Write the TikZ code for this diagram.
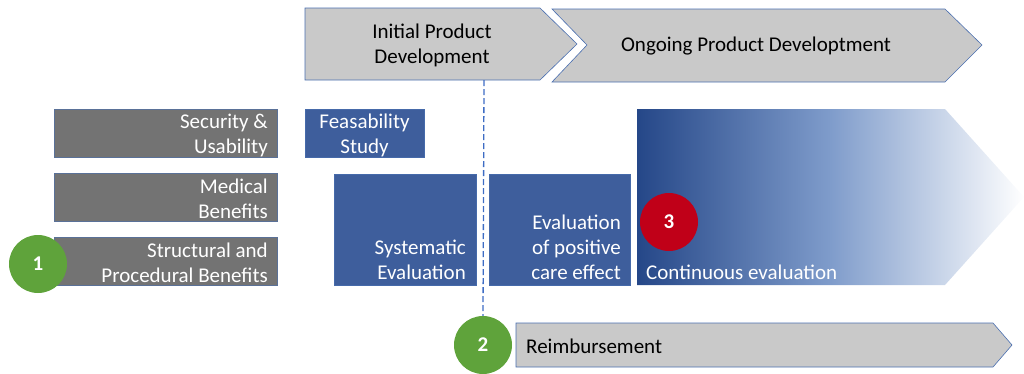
\documentclass[tikz,border=0pt]{standalone}
\usepackage{fontspec}
\setmainfont{Carlito}
\definecolor{chevgray}{HTML}{C9C9C9}
\definecolor{chevline}{HTML}{4A6FB0}
\definecolor{dashblue}{HTML}{3D6CC4}
\definecolor{boxgray}{HTML}{737373}
\definecolor{boxblue}{HTML}{3E5E9C}
\definecolor{darkblue}{HTML}{254788}
\definecolor{midblue}{HTML}{7F9CCB}
\definecolor{cgreen}{HTML}{5FA33B}
\definecolor{cred}{HTML}{C00018}
\begin{document}
\begin{tikzpicture}[x=1pt,y=-1pt,
  chev/.style={fill=chevgray,draw=chevline,line width=0.6pt},
  graybox/.style={fill=boxgray,draw=chevline!60!boxgray,line width=0.5pt},
  bluebox/.style={fill=boxblue,draw=chevline!70!boxblue,line width=0.5pt},
  lbl/.style={font=\fontsize{21}{25}\selectfont,inner sep=0pt},
  wlbl/.style={lbl,text=white},
  badge/.style={circle,minimum size=58pt,inner sep=0pt,text=white,font=\fontsize{21}{24}\selectfont\bfseries}]
\useasboundingbox (0,0) rectangle (1024,373);
% top chevrons
\draw[chev] (305,8) -- (540,8) -- (577,44) -- (540,80) -- (305,80) -- cycle;
\draw[chev] (552,9) -- (945,9) -- (982,45) -- (945,82) -- (552,82) -- (587,45) -- cycle;
\node[lbl,align=center] (ipd) at (432,45) {Initial Product\\Development};
\node[lbl] (opd) at (756,46) {Ongoing Product Developtment};
% dashed line
\coordinate (dtop) at (484,80);
% left gray boxes
\draw[graybox] (54,109) rectangle (277,157);
\draw[graybox] (54,173) rectangle (277,221);
\draw[graybox] (54,237) rectangle (277,285);
\node[wlbl,align=right,anchor=east] (sec) at (268,135) {Security \&\\Usability};
\node[wlbl,align=right,anchor=east] (med) at (268,199) {Medical\\Benefits};
\node[wlbl,align=right,anchor=east] (str) at (268,263) {Structural and\\Procedural Benefits};
% blue boxes
\draw[bluebox] (305,109) rectangle (424,157);
\node[wlbl,align=center] (feas) at (364.5,135) {Feasability\\Study};
\draw[bluebox] (334,174) rectangle (476,285);
\node[wlbl,align=right,anchor=south east] (sys) at (466,280) {Systematic\\Evaluation};
\draw[bluebox] (489,174) rectangle (630,285);
\node[wlbl,align=right,anchor=south east] (pos) at (621,280) {Evaluation\\of positive\\care effect};
% gradient arrow
\shade[left color=darkblue,right color=white,middle color=midblue] (637,109) -- (945,109) -- (1024,197) -- (945,285) -- (637,285) -- cycle;
\node[wlbl,anchor=south west] (cont) at (646,280) {Continuous evaluation};
% reimbursement
\draw[chev] (516,323) -- (993,323) -- (1012,345) -- (993,367) -- (516,367) -- cycle;
\node[lbl,anchor=west] (reim) at (526,346) {Reimbursement};
% badges
\node[badge,fill=cgreen] (b1) at (38,264) {1};
\node[badge,fill=cgreen] (b2) at (483,345) {2};
\node[badge,fill=cred] (b3) at (669,222) {3};
\draw[dashblue,line width=1.3pt,dash pattern=on 6pt off 3pt] (dtop) -- (b2.north);
\end{tikzpicture}
\end{document}
